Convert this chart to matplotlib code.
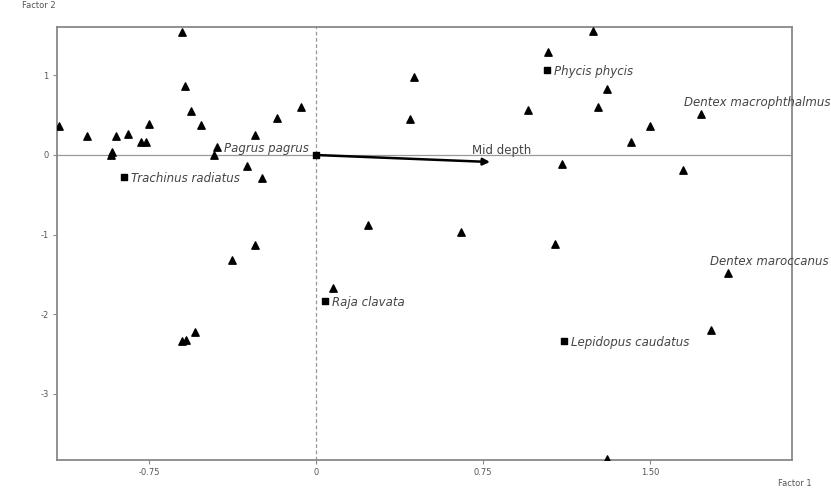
import matplotlib.pyplot as plt

# species scores on factor 1 / factor 2 (unlabelled points)
x_pts = [-1.154, -1.028, -0.916, -0.921, -0.898, -0.844, -0.786, -0.763, -0.750,
         -0.602, -0.588, -0.561, -0.516, -0.458, -0.310, -0.274, -0.243, -0.175,
         -0.067, -0.274, -0.377, -0.602, -0.584, -0.543, 0.076, 0.233, 0.651,
         1.073, 0.440, 0.422, 0.952, 1.042, 1.244, 1.307, 1.266, 1.500, 1.414,
         1.105, 1.648, 1.774, 1.307]
y_pts = [0.365, 0.239, 0.038, 0.0, 0.239, 0.264, 0.164, 0.164, 0.390,
         1.547, 0.868, 0.553, 0.377, 0.0, -0.138, 0.252, -0.289, 0.465,
         0.604, -1.132, -1.321, -2.340, -2.327, -2.226, -1.673, -0.881, -0.969,
         -1.120, 0.981, 0.453, 0.566, 1.296, 1.560, 0.830, 0.604, 0.365, 0.164,
         -0.113, -0.189, -2.201, -3.824]

# labelled species
sp_names = ["Pagrus pagrus", "Trachinus radiatus", "Raja clavata", "Phycis phycis",
            "Dentex macrophthalmus", "Dentex maroccanus", "Lepidopus caudatus"]
sp_x = [-0.445, -0.862, 0.040, 1.037, 1.729, 1.850, 1.114]
sp_y = [0.101, -0.277, -1.836, 1.069, 0.516, -1.484, -2.335]
sp_marker = ["^", "s", "s", "s", "^", "^", "s"]

# environmental vector
env_name = "Mid depth"
env_x = 0.781
env_y = -0.088

x_ticks = [-0.75, 0, 0.75, 1.50]
x_labels = ["-0.75", "0", "0.75", "1.50"]
y_ticks = [1, 0, -1, -2, -3]
y_labels = ["1", "0", "-1", "-2", "-3"]

fig = plt.figure(figsize=(8.31, 4.96), dpi=100)
ax = fig.add_axes([0.0686, 0.0726, 0.8845, 0.873])

ax.axhline(0, color="#999999", lw=0.9, zorder=1)
ax.axvline(0, color="#999999", lw=0.9, ls=(0, (3, 2)), zorder=1)

ax.scatter(x_pts, y_pts, marker="^", s=28, color="black", zorder=3, clip_on=True)
for name, x, y, m in zip(sp_names, sp_x, sp_y, sp_marker):
    ax.scatter([x], [y], marker=m, s=22 if m == "s" else 28, color="black", zorder=3)

# label placement offsets in points
offsets = {"Pagrus pagrus": (5, -1, "left", "center"),
           "Trachinus radiatus": (5, -1, "left", "center"),
           "Raja clavata": (5, -1, "left", "center"),
           "Phycis phycis": (5, -1, "left", "center"),
           "Dentex macrophthalmus": (-12, 8, "left", "center"),
           "Dentex maroccanus": (-13, 8, "left", "center"),
           "Lepidopus caudatus": (5, -1, "left", "center")}
for name, x, y in zip(sp_names, sp_x, sp_y):
    dx, dy, ha, va = offsets[name]
    ax.annotate(name, (x, y), xytext=(dx, dy), textcoords="offset points",
                ha=ha, va=va, fontsize=8.5, style="italic", color="#444444",
                annotation_clip=False, zorder=4)

ax.annotate("", xy=(env_x, env_y), xytext=(0, 0),
            arrowprops=dict(arrowstyle="-|>", color="black", lw=1.8,
                            mutation_scale=10, shrinkA=0, shrinkB=0), zorder=4)
ax.scatter([0], [0], marker="s", s=14, color="black", zorder=4)
ax.annotate(env_name, (env_x, env_y), xytext=(-13, 8), textcoords="offset points",
            ha="left", va="center", fontsize=8.5, color="#444444")

ax.set_xlim(-1.163, 2.137)
ax.set_ylim(-3.836, 1.610)
ax.set_xticks(x_ticks)
ax.set_xticklabels(x_labels)
ax.set_yticks(y_ticks)
ax.set_yticklabels(y_labels)
ax.tick_params(length=3, width=0.8, color="#888888", labelsize=6, labelcolor="#555555", pad=3)

for s in ax.spines.values():
    s.set_color("#888888")
    s.set_linewidth(1.3)

fig.text(22 / 831, 1 - 5 / 496, "Factor 2", fontsize=6, color="#555555", ha="left", va="center")
fig.text(795 / 831, 1 - 484 / 496, "Factor 1", fontsize=6, color="#555555", ha="center", va="center")

fig.savefig("out.png", dpi=100)
